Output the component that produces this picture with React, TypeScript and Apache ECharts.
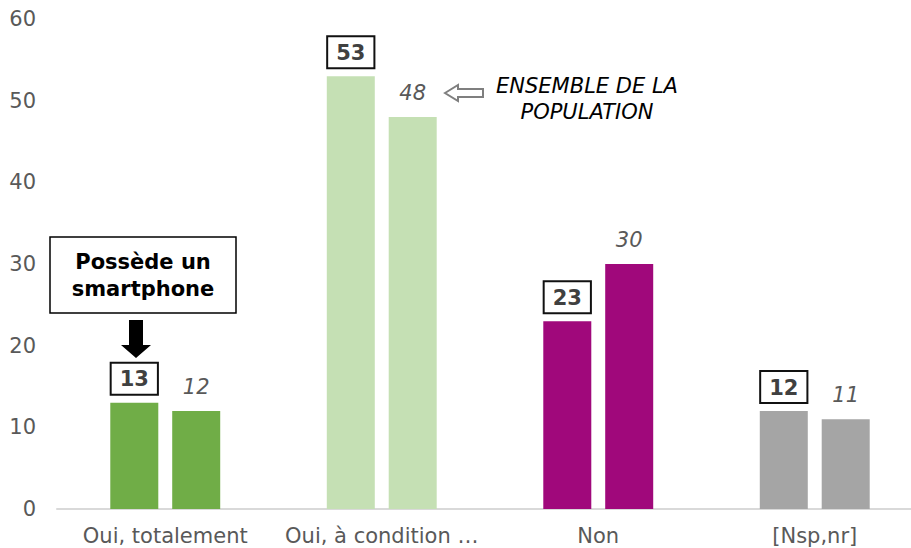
import React, { useEffect, useRef } from "react";
import * as echarts from "echarts";

const categories = ["Oui, totalement", "Oui, à condition …", "Non", "[Nsp,nr]"];
const smartphoneValues = [13, 53, 23, 12];
const populationValues = [12, 48, 30, 11];
const categoryColors = ["#70AD47", "#C5E0B4", "#A0087B", "#A5A5A5"];
const yTicks = { min: 0, max: 60, interval: 10 };

const FONT = "DejaVu Sans";

export default function App() {
  const ref = useRef<HTMLDivElement>(null);
  useEffect(() => {
    document.body.style.margin = "0";
    const chart = echarts.init(ref.current!, null, { renderer: "svg" });
    chart.setOption({
      animation: false,
      backgroundColor: "#fff",
      grid: { left: 57, right: 0, top: 19, bottom: 39, containLabel: false },
      xAxis: {
        type: "category",
        data: categories,
        axisLine: { lineStyle: { color: "#D9D9D9", width: 2 } },
        axisTick: { show: false },
        axisLabel: { color: "#595959", fontFamily: FONT, fontSize: 21, margin: 16, interval: 0 },
      },
      yAxis: {
        type: "value",
        min: yTicks.min,
        max: yTicks.max,
        interval: yTicks.interval,
        axisLine: { show: false },
        axisTick: { show: false },
        splitLine: { show: false },
        axisLabel: { color: "#595959", fontFamily: FONT, fontSize: 21, margin: 21 },
      },
      series: [
        {
          name: "Possède un smartphone",
          type: "bar",
          barWidth: 48,
          barGap: "29%",
          data: smartphoneValues.map((v, i) => ({ value: v, itemStyle: { color: categoryColors[i] } })),
          label: {
            show: true,
            position: "top",
            distance: 9,
            color: "#404040",
            fontFamily: FONT,
            fontWeight: "bold",
            fontSize: 21,
            backgroundColor: "#fff",
            borderColor: "#111",
            borderWidth: 2,
            padding: [5, 8, 4, 8],
          },
        },
        {
          name: "Ensemble de la population",
          type: "bar",
          barWidth: 48,
          data: populationValues.map((v, i) => ({ value: v, itemStyle: { color: categoryColors[i] } })),
          label: {
            show: true,
            position: "top",
            distance: 14,
            color: "#595959",
            fontFamily: FONT,
            fontStyle: "italic",
            fontSize: 21,
          },
        },
      ],
      graphic: [
        {
          type: "rect",
          shape: { x: 50, y: 237, width: 186, height: 76 },
          style: { fill: "#fff", stroke: "#000", lineWidth: 1.5 },
        },
        {
          type: "text",
          x: 143,
          y: 275,
          style: {
            text: "Possède un\nsmartphone",
            fontFamily: FONT,
            fontWeight: "bold",
            fontSize: 21,
            lineHeight: 27,
            fill: "#000",
            align: "center",
            verticalAlign: "middle",
          },
        },
        {
          type: "polygon",
          shape: {
            points: [
              [129, 320],
              [143, 320],
              [143, 345],
              [151, 345],
              [136, 358],
              [121, 345],
              [129, 345],
            ],
          },
          style: { fill: "#000" },
        },
        {
          type: "polygon",
          shape: {
            points: [
              [445, 93],
              [458, 85],
              [458, 89],
              [483, 89],
              [483, 97],
              [458, 97],
              [458, 101],
            ],
          },
          style: { fill: "#fff", stroke: "#7F7F7F", lineWidth: 2 },
        },
        {
          type: "text",
          x: 587,
          y: 99,
          style: {
            text: "ENSEMBLE DE LA\nPOPULATION",
            fontFamily: FONT,
            fontStyle: "italic",
            fontSize: 21,
            lineHeight: 26,
            fill: "#000",
            align: "center",
            verticalAlign: "middle",
          },
        },
      ],
    });
    return () => chart.dispose();
  }, []);
  return (
    <div style={{ width: 911, height: 548, overflow: "hidden", position: "relative" }}>
      <div ref={ref} style={{ width: 923, height: 548 }} />
    </div>
  );
}
